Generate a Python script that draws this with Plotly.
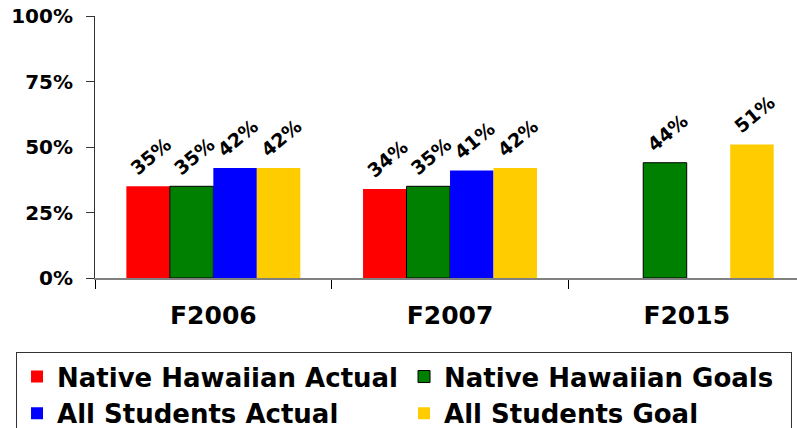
import plotly.graph_objects as go

categories = ["F2006", "F2007", "F2015"]
series_names = ["Native Hawaiian Actual", "Native Hawaiian Goals", "All Students Actual", "All Students Goal"]
nh_actual = [35, 34, None]
nh_goals = [35, 35, 44]
all_actual = [42, 41, None]
all_goal = [42, 42, 51]
y_ticks = [0, 25, 50, 75, 100]
y_tick_labels = ["0%", "25%", "50%", "75%", "100%"]

values = [nh_actual, nh_goals, all_actual, all_goal]
colors = ["#FF0000", "#008000", "#0000FF", "#FFCC00"]
outlines = [0, 1, 0, 0]

FONT = "DejaVu Sans"

fig = go.Figure()
for name, vals, col, lw in zip(series_names, values, colors, outlines):
    fig.add_trace(go.Bar(
        x=categories, y=vals, name=name,
        marker=dict(color=col, line=dict(color="#000000", width=lw)),
        text=[f" {v}%" if v is not None else "" for v in vals],
        textposition="outside", textangle=-40, constraintext="none",
        cliponaxis=False,
        textfont=dict(family=FONT, size=19, color="#000000", weight="bold"),
    ))

fig.update_layout(
    width=797, height=428,
    margin=dict(l=95, r=0, t=16, b=150, autoexpand=False),
    paper_bgcolor="white", plot_bgcolor="white",
    barmode="group", bargap=0.265, bargroupgap=0,
    showlegend=True,
    legend=dict(
        orientation="h", x=-0.1125, xanchor="left", y=-0.2830, yanchor="top",
        font=dict(family=FONT, size=26, color="#000000", weight="bold"),
        bordercolor="#333333", borderwidth=1,
        entrywidth=342, entrywidthmode="pixels",
        traceorder="normal",
    ),
    xaxis=dict(
        type="category", range=[-0.5, 2.466],
        showline=True, linecolor="#808080", linewidth=2,
        ticks="outside", tickson="boundaries", ticklen=9, tickcolor="#000000", tickwidth=1,
        tickfont=dict(family=FONT, size=25, color="#000000", weight="bold"),
        ticklabelstandoff=14,
        showgrid=False, zeroline=False,
    ),
    yaxis=dict(
        range=[0, 100], tickmode="array", tickvals=y_ticks, ticktext=y_tick_labels,
        showline=True, linecolor="#333333", linewidth=1,
        ticks="outside", ticklen=8, tickcolor="#333333",
        tickfont=dict(family=FONT, size=20, color="#000000", weight="bold"),
        ticklabelstandoff=9,
        showgrid=False, zeroline=False,
    ),
)

fig.write_html("out.html", config={"displayModeBar": False})

# remove the browser's default page margin so the figure sits at the window origin
with open("out.html", "r", encoding="utf-8") as f:
    html = f.read()
html = html.replace("<body>", '<body style="margin:0;padding:0;overflow:hidden">', 1)
with open("out.html", "w", encoding="utf-8") as f:
    f.write(html)
